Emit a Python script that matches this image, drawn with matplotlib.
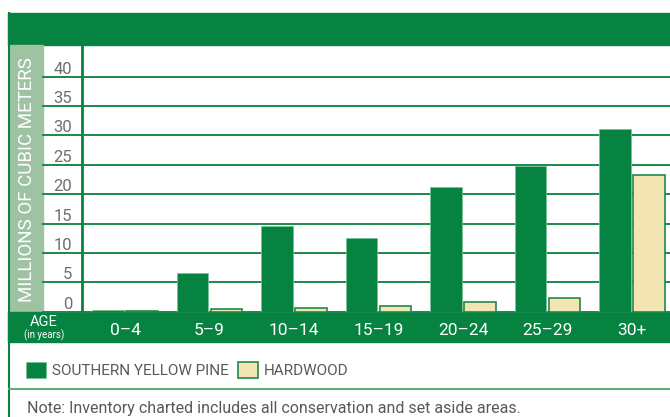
import matplotlib
matplotlib.use("Agg")
import matplotlib.pyplot as plt
from matplotlib.patches import Rectangle
from matplotlib.lines import Line2D
import numpy as np

categories = ["0–4", "5–9", "10–14", "15–19", "20–24", "25–29", "30+"]
pine = [0.3, 6.6, 14.6, 12.5, 21.2, 24.8, 31.1]
hardwood = [0.2, 0.45, 0.65, 0.9, 1.65, 2.3, 23.3]
yticks = [0, 5, 10, 15, 20, 25, 30, 35, 40]

GREEN = "#068241"
CREAM = "#f3e5b1"
SAGE = "#9dc3a3"
GRAY = "#6d6e71"
TXT = "#58595b"

plt.rcParams['font.family'] = ['Roboto', 'DejaVu Sans']

W, H = 670, 417
fig = plt.figure(figsize=(W / 100, H / 100), dpi=100)

def fx(px):
    return px / W

def fy(py):
    return 1 - py / H

# header band
fig.patches.append(Rectangle((fx(8), fy(45)), fx(670) - fx(8), fy(13) - fy(45),
                             transform=fig.transFigure, color=GREEN, zorder=0))
# y label strip
fig.patches.append(Rectangle((fx(10), fy(312)), fx(43) - fx(10), fy(45) - fy(312),
                             transform=fig.transFigure, color=SAGE, zorder=0))
# bottom band
fig.patches.append(Rectangle((fx(8), fy(342)), fx(670) - fx(8), fy(311.5) - fy(342),
                             transform=fig.transFigure, color=GREEN, zorder=0))
# left border
fig.lines.append(Line2D([fx(9), fx(9)], [fy(13), 0], transform=fig.transFigure,
                        color=GREEN, lw=1.5))
# separator line
fig.lines.append(Line2D([fx(9), 1], [fy(389), fy(389)], transform=fig.transFigure,
                        color="#5fae7e", lw=1.5))

ax = fig.add_axes([fx(82), fy(311.7), fx(670) - fx(82), fy(45) - fy(311.7)])
ax.set_zorder(3)
ax.set_facecolor("none")
x = np.arange(len(categories))
bw = 0.374
off = 0.2
ax.bar(x - off, pine, bw, color=GREEN, edgecolor="#7cc09a", linewidth=0.6,
       label="SOUTHERN YELLOW PINE", zorder=3)
ax.bar(x + off, hardwood, bw, color=CREAM, edgecolor="#1f8a4c", linewidth=1.2,
       label="HARDWOOD", zorder=3)

ax.set_xlim(-0.509, 6.45)
ax.set_ylim(0, 45.4)

for t in yticks:
    ax.axhline(t, xmin=-0.066, xmax=1, color="#1a8a4a", lw=1.4, clip_on=False, zorder=1)

ax.set_yticks(yticks)
ax.set_yticklabels([str(t) for t in yticks], color=GRAY, fontsize=12)
for lab in ax.get_yticklabels():
    lab.set_va("bottom")
ax.tick_params(axis="y", length=0, pad=7)

ax.set_xticks(x)
ax.set_xticklabels(categories, color="white", fontsize=12.5)
ax.tick_params(axis="x", length=0, pad=8)

for s in ["top", "right", "bottom"]:
    ax.spines[s].set_visible(False)
ax.spines["left"].set_color(GREEN)
ax.spines["left"].set_linewidth(2)

fig.text(fx(27), fy(180), "MILLIONS OF CUBIC METERS", rotation=90, color="white",
         fontsize=13.5, ha="center", va="center")
fig.text(fx(44), fy(322), "AGE", color="white", fontsize=10.5, ha="center", va="center")
fig.text(fx(44), fy(335), "(in years)", color="white", fontsize=7, ha="center", va="center")

fig.legend(loc="center left", bbox_to_anchor=(fx(26), fy(370)), ncol=2, frameon=False,
           fontsize=11, labelcolor=TXT, handlelength=1.3, handleheight=1.3,
           handletextpad=0.4, columnspacing=0.6, borderpad=0, borderaxespad=0)

fig.text(fx(27), fy(408), "Note: Inventory charted includes all conservation and set aside areas.",
         color=TXT, fontsize=11.5, ha="left", va="center")

fig.savefig("out.png", dpi=100)
